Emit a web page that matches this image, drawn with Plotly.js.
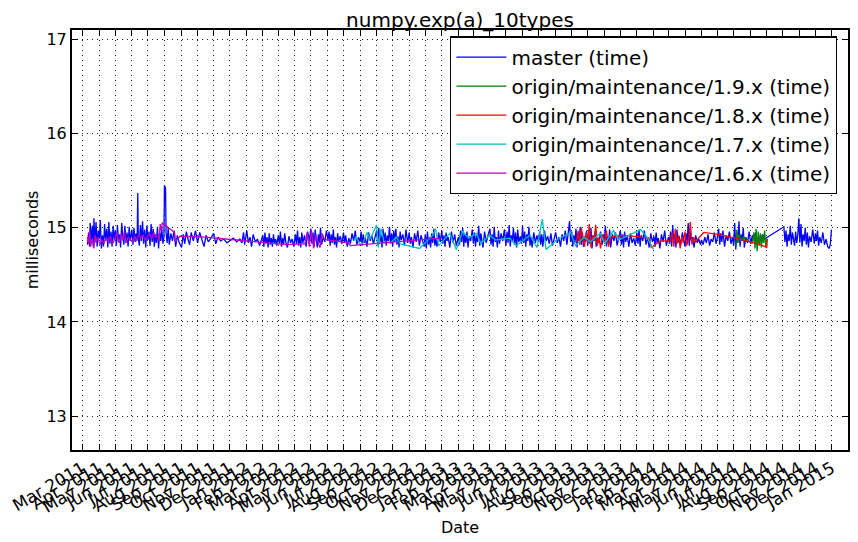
<!DOCTYPE html>
<html>
<head>
<meta charset="utf-8">
<script src="https://cdn.plot.ly/plotly-3.0.1.min.js"></script>
<style>
  html, body { margin: 0; padding: 0; background: #fff; }
  #chart { width: 858px; height: 542px; }
</style>
</head>
<body>
<div id="chart"></div>
<script>
// ── Dados ─────────────────────────────────────────────────

const masterDates = [
  '2011-03-10','2011-03-12','2011-03-14','2011-03-15','2011-03-17','2011-03-19','2011-03-21','2011-03-22','2011-03-24','2011-03-26','2011-03-28','2011-03-30',
  '2011-04-01','2011-04-03','2011-04-05','2011-04-07','2011-04-09','2011-04-11','2011-04-13','2011-04-15','2011-04-17','2011-04-19','2011-04-21','2011-04-23','2011-04-25','2011-04-27','2011-04-29',
  '2011-05-01','2011-05-03','2011-05-05','2011-05-07','2011-05-09','2011-05-11','2011-05-13','2011-05-15','2011-05-17','2011-05-19','2011-05-21','2011-05-23','2011-05-25','2011-05-27','2011-05-29',
  '2011-06-01','2011-06-03','2011-06-05','2011-06-07','2011-06-09','2011-06-11','2011-06-12','2011-06-13','2011-06-15','2011-06-17','2011-06-19','2011-06-21','2011-06-23','2011-06-25','2011-06-27','2011-06-29',
  '2011-07-01','2011-07-03','2011-07-05','2011-07-07','2011-07-09','2011-07-11','2011-07-13','2011-07-15','2011-07-17','2011-07-19','2011-07-21','2011-07-23','2011-07-25','2011-07-27','2011-07-29','2011-07-31',
  '2011-08-01','2011-08-03','2011-08-04','2011-08-06','2011-08-08','2011-08-10','2011-08-13','2011-08-16','2011-08-19','2011-08-22','2011-08-25','2011-08-28',
  '2011-09-02','2011-09-05','2011-09-08','2011-09-11','2011-09-14','2011-09-17','2011-09-20','2011-09-24','2011-09-28',
  '2011-10-02','2011-10-06','2011-10-10','2011-10-14','2011-10-18','2011-10-22','2011-10-27',
  '2011-11-01','2011-11-05','2011-11-09','2011-11-14','2011-11-20','2011-11-26',
  '2011-12-02','2011-12-08','2011-12-14','2011-12-20','2011-12-24','2011-12-27','2011-12-29',
  '2012-01-02','2012-01-05','2012-01-08','2012-01-11','2012-01-14','2012-01-18','2012-01-22','2012-01-26',
  '2012-02-01','2012-02-03','2012-02-05','2012-02-07','2012-02-09','2012-02-11','2012-02-13','2012-02-15','2012-02-17','2012-02-19','2012-02-21','2012-02-23','2012-02-25','2012-02-27',
  '2012-03-01','2012-03-03','2012-03-05','2012-03-07','2012-03-09','2012-03-11','2012-03-13','2012-03-15','2012-03-18','2012-03-21','2012-03-24','2012-03-27','2012-03-30',
  '2012-04-02','2012-04-04','2012-04-06','2012-04-08','2012-04-10','2012-04-12','2012-04-14','2012-04-16','2012-04-19','2012-04-22','2012-04-25','2012-04-28',
  '2012-05-01','2012-05-03','2012-05-05','2012-05-07','2012-05-09','2012-05-11','2012-05-13','2012-05-15','2012-05-17','2012-05-19','2012-05-21','2012-05-24','2012-05-27','2012-05-30',
  '2012-06-02','2012-06-04','2012-06-06','2012-06-08','2012-06-10','2012-06-12','2012-06-14','2012-06-16','2012-06-18','2012-06-20','2012-06-22','2012-06-25','2012-06-28',
  '2012-07-01','2012-07-03','2012-07-05','2012-07-08','2012-07-11','2012-07-14','2012-07-17','2012-07-20','2012-07-23','2012-07-26','2012-07-29',
  '2012-08-01','2012-08-03','2012-08-05','2012-08-07','2012-08-09','2012-08-11','2012-08-14','2012-08-17','2012-08-20','2012-08-23','2012-08-26','2012-08-29',
  '2012-09-01','2012-09-03','2012-09-05','2012-09-07','2012-09-09','2012-09-11','2012-09-13','2012-09-15','2012-09-17','2012-09-19','2012-09-21','2012-09-23','2012-09-25','2012-09-27','2012-09-29',
  '2012-10-01','2012-10-03','2012-10-05','2012-10-07','2012-10-09','2012-10-11','2012-10-13','2012-10-15','2012-10-17','2012-10-20','2012-10-23','2012-10-26','2012-10-29',
  '2012-11-01','2012-11-03','2012-11-05','2012-11-08','2012-11-11','2012-11-14','2012-11-17','2012-11-20','2012-11-23','2012-11-26','2012-11-29',
  '2012-12-01','2012-12-03','2012-12-05','2012-12-07','2012-12-09','2012-12-11','2012-12-13','2012-12-15','2012-12-17','2012-12-19','2012-12-21','2012-12-23','2012-12-26','2012-12-29',
  '2013-01-01','2013-01-03','2013-01-05','2013-01-07','2013-01-09','2013-01-11','2013-01-13','2013-01-16','2013-01-19','2013-01-22','2013-01-25','2013-01-28',
  '2013-02-01','2013-02-03','2013-02-05','2013-02-07','2013-02-09','2013-02-11','2013-02-13','2013-02-15','2013-02-17','2013-02-19','2013-02-21','2013-02-24','2013-02-27',
  '2013-03-01','2013-03-03','2013-03-05','2013-03-07','2013-03-09','2013-03-11','2013-03-13','2013-03-15','2013-03-17','2013-03-19','2013-03-22','2013-03-25','2013-03-28',
  '2013-04-01','2013-04-03','2013-04-05','2013-04-07','2013-04-09','2013-04-11','2013-04-13','2013-04-15','2013-04-17','2013-04-19','2013-04-22','2013-04-25','2013-04-28',
  '2013-05-01','2013-05-03','2013-05-05','2013-05-07','2013-05-09','2013-05-11','2013-05-13','2013-05-15','2013-05-17','2013-05-19','2013-05-21','2013-05-23','2013-05-25','2013-05-28','2013-05-30',
  '2013-06-01','2013-06-03','2013-06-05','2013-06-07','2013-06-09','2013-06-11','2013-06-13','2013-06-15','2013-06-17','2013-06-19','2013-06-22','2013-06-25','2013-06-28',
  '2013-07-01','2013-07-03','2013-07-05','2013-07-07','2013-07-09','2013-07-12','2013-07-15','2013-07-18','2013-07-21','2013-07-24','2013-07-27','2013-07-30',
  '2013-08-02','2013-08-05','2013-08-08','2013-08-11','2013-08-14','2013-08-17','2013-08-20','2013-08-23','2013-08-26','2013-08-28','2013-08-30',
  '2013-09-01','2013-09-03','2013-09-05','2013-09-07','2013-09-09','2013-09-11','2013-09-13','2013-09-15','2013-09-17','2013-09-19','2013-09-21','2013-09-23','2013-09-25','2013-09-27','2013-09-29',
  '2013-10-01','2013-10-03','2013-10-05','2013-10-07','2013-10-09','2013-10-11','2013-10-13','2013-10-15','2013-10-17','2013-10-19','2013-10-22','2013-10-25','2013-10-28','2013-10-30',
  '2013-11-01','2013-11-03','2013-11-05','2013-11-07','2013-11-09','2013-11-11','2013-11-13','2013-11-16','2013-11-19','2013-11-22','2013-11-25','2013-11-28',
  '2013-12-01','2013-12-03','2013-12-05','2013-12-07','2013-12-09','2013-12-11','2013-12-14','2013-12-17','2013-12-20','2013-12-23','2013-12-26','2013-12-29',
  '2014-01-01','2014-01-03','2014-01-05','2014-01-07','2014-01-09','2014-01-12','2014-01-15','2014-01-18','2014-01-21','2014-01-24','2014-01-27','2014-01-30',
  '2014-02-02','2014-02-04','2014-02-06','2014-02-08','2014-02-10','2014-02-13','2014-02-16','2014-02-19','2014-02-22','2014-02-25',
  '2014-03-01','2014-03-03','2014-03-05','2014-03-07','2014-03-09','2014-03-11','2014-03-13','2014-03-15','2014-03-17','2014-03-19','2014-03-21','2014-03-24','2014-03-27','2014-03-30',
  '2014-04-01','2014-04-03','2014-04-05','2014-04-07','2014-04-09','2014-04-11','2014-04-13','2014-04-15','2014-04-18','2014-04-21','2014-04-24','2014-04-27','2014-04-30',
  '2014-05-02','2014-05-05','2014-05-08','2014-05-11','2014-05-14','2014-05-17','2014-05-20','2014-05-23','2014-05-26','2014-05-29',
  '2014-06-01','2014-06-03','2014-06-05','2014-06-07','2014-06-09','2014-06-11','2014-06-14','2014-06-17','2014-06-20','2014-06-23','2014-06-26','2014-06-29',
  '2014-07-01','2014-07-03','2014-07-05','2014-07-07','2014-07-09','2014-07-11','2014-07-13','2014-07-15','2014-07-17','2014-07-19','2014-07-21','2014-07-24','2014-07-27','2014-07-30',
  '2014-08-02','2014-08-05','2014-08-08','2014-08-11','2014-08-14','2014-08-17','2014-08-20','2014-08-24','2014-08-28',
  '2014-09-02',
  '2014-10-03','2014-10-05','2014-10-07','2014-10-09','2014-10-11','2014-10-13','2014-10-15','2014-10-17','2014-10-19','2014-10-21','2014-10-23','2014-10-25','2014-10-27','2014-10-29','2014-10-31',
  '2014-11-02','2014-11-04','2014-11-06','2014-11-08','2014-11-10','2014-11-12','2014-11-14','2014-11-16','2014-11-18','2014-11-20','2014-11-23','2014-11-26','2014-11-29',
  '2014-12-01','2014-12-03','2014-12-05','2014-12-07','2014-12-09','2014-12-12','2014-12-15','2014-12-18','2014-12-21','2014-12-24','2014-12-27','2014-12-29','2014-12-31',
];
const masterTimes = [
  14.82,14.95,14.80,15.05,14.85,15.02,14.79,15.10,14.84,15.06,14.80,14.97,
  14.88,15.08,14.78,14.92,14.80,15.04,14.86,14.99,14.79,15.06,14.83,14.96,14.80,15.02,14.87,
  14.97,14.81,15.03,14.85,14.93,14.79,15.05,14.90,14.82,15.02,14.84,14.95,14.80,15.01,14.86,
  14.98,14.82,15.00,14.85,14.94,14.88,15.37,14.90,14.81,15.03,14.86,15.07,14.83,14.98,14.79,15.02,
  14.87,14.96,14.81,15.04,14.85,14.99,14.80,14.93,14.84,15.01,14.78,14.95,14.86,15.00,14.83,14.90,
  15.45,15.42,14.95,14.84,15.00,14.82,14.94,14.86,14.97,14.80,14.92,14.85,
  14.79,14.93,14.83,14.96,14.88,14.82,14.95,14.86,14.97,
  14.84,14.95,14.87,14.80,14.92,14.85,14.89,
  14.94,14.83,14.90,14.86,14.88,14.84,
  14.87,14.89,14.85,14.88,14.84,14.95,14.82,
  14.97,14.84,14.90,14.80,14.93,14.85,14.88,14.81,
  14.92,14.80,14.95,14.83,14.90,14.79,14.94,14.82,14.89,14.80,14.93,14.84,14.88,14.81,
  14.92,14.83,14.96,14.80,14.89,14.82,14.94,14.85,14.79,14.91,14.84,14.88,14.80,
  14.93,14.83,14.97,14.81,14.90,14.79,14.95,14.84,14.92,14.80,14.96,14.86,
  14.99,14.83,14.95,14.80,14.98,14.86,14.79,14.93,14.84,15.00,14.82,14.90,14.85,14.97,
  14.87,14.96,14.81,14.93,14.84,14.98,14.82,14.90,14.79,14.94,14.86,14.91,14.83,
  14.95,14.84,14.92,14.80,14.89,14.83,14.94,14.86,14.97,14.82,14.90,
  14.85,14.96,14.81,14.93,14.84,14.89,14.80,14.95,14.86,14.92,14.83,14.90,
  14.97,14.82,15.00,14.85,14.93,14.79,14.99,14.84,14.95,14.81,14.92,14.86,15.01,14.83,14.94,
  14.80,14.97,14.85,14.99,14.82,14.91,14.79,14.96,14.87,14.93,14.81,14.98,14.84,
  14.95,14.83,14.90,14.79,14.94,14.85,14.97,14.81,14.92,14.86,14.80,
  14.93,14.78,14.96,14.82,14.90,14.79,14.94,14.84,14.99,14.81,14.88,14.80,14.95,14.85,
  14.97,14.83,14.92,14.80,14.95,14.86,14.90,14.79,14.96,14.84,14.93,14.81,
  14.90,14.82,14.97,14.85,15.00,14.80,14.93,14.84,14.96,14.79,14.91,14.86,14.98,
  14.83,14.95,14.80,14.92,14.85,15.02,14.81,14.94,14.87,14.79,14.96,14.84,14.91,
  14.99,14.82,14.93,14.80,15.01,14.85,14.90,14.79,14.97,14.83,14.94,14.86,14.98,
  14.81,14.96,14.84,15.03,14.80,14.92,14.86,15.00,14.82,14.95,14.79,14.98,14.85,14.91,14.83,
  15.02,14.84,14.96,14.80,14.93,14.86,15.01,14.81,14.90,14.79,14.95,14.84,14.92,
  14.85,14.96,14.82,14.93,14.80,14.97,14.86,14.91,14.83,14.94,14.81,14.89,
  14.95,14.84,14.90,14.80,14.93,14.86,14.97,14.82,14.94,15.07,14.85,
  14.96,14.80,14.92,14.84,14.99,14.79,14.93,14.86,15.01,14.82,14.95,14.80,14.91,14.85,14.97,
  14.81,14.94,14.83,15.00,14.78,14.92,14.86,14.97,14.80,14.89,14.84,14.96,14.82,14.93,
  14.85,15.02,14.80,14.91,14.84,14.98,14.79,14.93,14.86,14.95,14.81,14.90,
  14.97,14.82,14.93,14.79,14.96,14.85,14.91,14.80,14.94,14.84,14.89,14.81,
  14.95,14.83,14.98,14.80,14.92,14.86,14.97,14.82,14.90,14.79,14.94,14.85,
  14.91,14.80,14.95,14.84,14.89,14.78,14.93,14.85,14.97,14.81,
  14.90,14.83,14.96,14.80,15.03,14.85,14.93,14.79,14.98,14.84,14.91,14.82,14.95,14.86,
  14.80,14.94,14.83,15.05,14.81,14.96,14.86,14.90,14.79,14.92,14.84,14.88,14.82,
  14.87,14.82,14.90,14.84,14.93,14.81,14.88,14.85,14.95,14.83,
  14.91,14.99,14.82,14.94,14.85,14.97,14.80,14.92,14.86,14.96,14.83,14.90,
  14.81,15.05,14.77,14.95,14.84,15.07,14.80,14.93,14.86,15.00,14.79,14.90,14.84,14.96,
  14.83,14.92,14.86,14.95,14.82,14.90,14.85,14.93,14.88,
  14.90,
  15.01,14.85,14.97,14.80,14.93,14.86,15.02,14.82,14.95,14.88,14.81,14.96,14.84,14.92,15.10,
  14.84,15.04,14.80,14.93,14.86,15.00,14.82,14.95,14.79,14.91,14.85,14.98,14.83,
  14.94,14.86,14.97,14.81,14.90,14.84,14.95,14.82,14.88,14.80,14.78,14.83,14.98,
];

const m19Dates = [
  '2014-07-05','2014-07-07','2014-07-09','2014-07-11','2014-07-14','2014-07-20','2014-07-28',
  '2014-08-05','2014-08-08','2014-08-10','2014-08-12','2014-08-14','2014-08-16','2014-08-18','2014-08-20',
  '2014-08-22','2014-08-24','2014-08-26','2014-08-28','2014-08-30','2014-09-01',
];
const m19Times = [
  14.80,14.98,14.84,14.93,14.87,14.90,14.86,
  14.84,14.95,14.78,14.99,14.75,14.96,14.81,14.94,
  14.79,14.92,14.84,14.97,14.80,14.88,
];

const m18Dates = [
  '2013-09-10','2013-09-13','2013-09-16','2013-09-19','2013-09-22','2013-09-25','2013-09-28',
  '2013-10-01','2013-10-04','2013-10-07','2013-10-10','2013-10-13','2013-10-16','2013-10-19','2013-10-22','2013-10-25','2013-10-28',
  '2013-11-01','2013-11-05','2013-11-09','2013-11-13','2013-11-17','2013-12-10',
  '2014-01-23','2014-01-28','2014-02-14',
  '2014-03-05','2014-03-08','2014-03-11','2014-03-14','2014-03-17','2014-03-20','2014-03-23','2014-03-26','2014-03-29',
  '2014-04-01','2014-04-04','2014-04-08','2014-04-11','2014-04-14','2014-04-17','2014-04-20',
  '2014-05-06','2014-06-01','2014-07-05','2014-08-20','2014-09-01','2014-09-02',
];
const m18Times = [
  14.85,14.97,14.82,15.00,14.88,14.80,14.95,
  14.84,15.04,14.79,14.92,14.86,15.03,14.81,14.90,14.78,14.93,
  14.85,14.97,14.80,14.89,14.91,14.92,
  14.89,14.79,14.86,
  14.86,14.95,14.80,14.99,14.83,14.92,14.78,14.90,14.84,
  14.96,14.81,14.88,15.06,14.82,14.90,14.85,
  14.95,14.93,14.89,14.82,14.79,14.88,
];

const m17Dates = [
  '2012-07-20','2012-07-25','2012-08-01','2012-08-07','2012-08-14','2012-08-20',
  '2012-09-01','2012-09-04','2012-09-09','2012-09-15','2012-09-27','2012-10-08','2012-10-15',
  '2012-11-20','2012-12-15','2012-12-20','2012-12-26',
  '2013-01-16','2013-01-28','2013-02-09','2013-02-20','2013-03-07','2013-03-15','2013-03-31',
  '2013-04-12','2013-05-08','2013-05-20','2013-06-15','2013-06-28','2013-07-08','2013-07-15',
  '2013-08-04','2013-08-30','2013-09-08','2013-09-24','2013-10-06','2013-10-24',
  '2013-11-02','2013-11-18','2013-11-28','2014-01-08','2014-01-20','2014-02-01',
];
const m17Times = [
  14.86,14.90,14.82,14.84,14.95,14.88,
  15.03,14.79,14.99,14.85,14.84,14.90,14.83,
  14.78,14.92,14.99,14.81,
  14.94,14.77,14.96,14.89,14.94,14.83,14.92,
  14.87,14.89,14.81,14.92,14.79,15.09,14.77,
  14.87,14.95,14.81,14.90,14.85,14.94,
  14.83,14.97,14.87,14.98,14.90,14.77,
];

const m16Dates = [
  '2011-03-10','2011-03-12','2011-03-14','2011-03-16','2011-03-18','2011-03-20','2011-03-22','2011-03-24','2011-03-27','2011-03-30',
  '2011-04-02','2011-04-06','2011-04-10','2011-04-14','2011-04-18','2011-04-22','2011-04-26','2011-04-30',
  '2011-05-04','2011-05-08','2011-05-12','2011-05-15','2011-05-18','2011-05-21','2011-05-25','2011-05-29',
  '2011-06-02','2011-06-06','2011-06-10','2011-06-14','2011-06-18','2011-06-22','2011-06-26','2011-06-30',
  '2011-07-04','2011-07-08','2011-07-12','2011-07-16','2011-07-20','2011-07-22','2011-07-24','2011-07-26','2011-07-28',
  '2011-08-20','2011-08-21','2011-08-30','2011-10-15','2011-12-15','2012-02-15','2012-03-14',
  '2012-04-20','2012-04-24','2012-04-28','2012-05-02','2012-05-06','2012-05-10','2012-05-14','2012-05-18','2012-05-22','2012-05-26',
  '2012-06-01','2012-07-10','2012-07-14','2012-09-15','2012-11-10','2012-12-30',
];
const m16Times = [
  14.90,14.83,14.97,14.80,14.88,14.85,14.78,14.92,14.86,14.90,
  14.82,14.87,14.84,14.89,14.86,14.91,14.83,14.88,
  14.95,14.84,14.93,14.87,14.96,14.84,14.90,14.88,
  14.85,14.91,14.86,14.93,14.89,14.92,14.87,14.90,
  14.94,14.88,14.95,14.90,14.92,14.86,15.04,14.97,15.05,
  14.95,14.85,14.91,14.90,14.87,14.84,14.82,
  14.83,14.95,14.80,14.97,14.78,14.92,14.85,14.79,14.94,14.88,
  14.87,14.84,14.81,14.84,14.87,14.89,
];

const seriesNames  = ['master (time)', 'origin/maintenance/1.9.x (time)', 'origin/maintenance/1.8.x (time)',
                      'origin/maintenance/1.7.x (time)', 'origin/maintenance/1.6.x (time)'];
const seriesColors = ['#0000ff', '#008000', '#ff0000', '#00bfbf', '#bf00bf'];

// ── Traces ────────────────────────────────────────────────

const seriesData = [
  [masterDates, masterTimes],
  [m19Dates, m19Times],
  [m18Dates, m18Times],
  [m17Dates, m17Times],
  [m16Dates, m16Times],
];

const traces = seriesData.map(([x, y], i) => ({
  x, y,
  name: seriesNames[i],
  type: 'scatter',
  mode: 'lines',
  line: { color: seriesColors[i], width: 1.3 },
}));

// ── Layout ────────────────────────────────────────────────

const font = 'DejaVu Sans, sans-serif';

const commonAxis = {
  showline: true,
  linecolor: '#000',
  linewidth: 2,
  mirror: 'allticks',
  ticks: 'inside',
  ticklen: 6,
  tickcolor: '#000',
  showgrid: true,
  gridcolor: '#222',
  gridwidth: 1,
  griddash: '1px,4px',
  zeroline: false,
  tickfont: { family: font, size: 16, color: '#000' },
};

const layout = {
  width: 858,
  height: 542,
  paper_bgcolor: '#fff',
  plot_bgcolor: '#fff',
  margin: { l: 72, r: 10, t: 30, b: 92 },
  font: { family: font, color: '#000' },
  title: {
    text: 'numpy.exp(a)_10types',
    font: { family: font, size: 20, color: '#000' },
    x: 0.5, xref: 'paper',
    y: 1, yref: 'paper', yanchor: 'bottom',
    pad: { b: 3 },
  },
  xaxis: {
    ...commonAxis,
    type: 'date',
    range: ['2011-02-09', '2015-01-31'],
    tick0: '2011-03-01',
    dtick: 'M1',
    tickformat: '%b %Y',
    tickangle: -30,
    tickfont: { family: font, size: 17, color: '#000' },
    title: { text: 'Date', font: { family: font, size: 16, color: '#000' }, standoff: 6 },
  },
  yaxis: {
    ...commonAxis,
    range: [12.64, 17.1],
    dtick: 1,
    tick0: 13,
    title: { text: 'milliseconds', font: { family: font, size: 16, color: '#000' }, standoff: 4 },
  },
  legend: {
    x: 0.986, xanchor: 'right',
    y: 0.985, yanchor: 'top',
    bgcolor: '#fff',
    bordercolor: '#000',
    borderwidth: 1.3,
    font: { family: font, size: 20, color: '#000' },
    itemwidth: 50,
  },
  showlegend: true,
  hovermode: false,
};

Plotly.newPlot('chart', traces, layout, { displayModeBar: false, staticPlot: true });
</script>
</body>
</html>
